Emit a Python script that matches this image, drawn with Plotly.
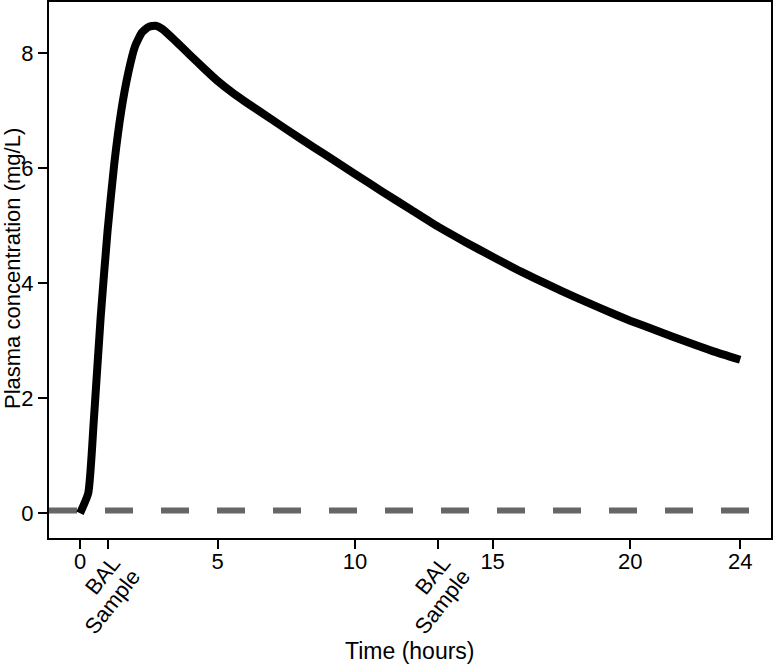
import plotly.graph_objects as go

# ---- data ----
time_hours = [0, 0.3, 0.5, 0.75, 1, 1.25, 1.5, 1.75, 2, 2.25, 2.5, 2.75, 3, 3.5, 4, 4.5,
              5, 5.5, 6, 7, 8, 9, 10, 11, 12, 13, 14, 15, 16, 17, 18, 19, 20, 21, 22, 23, 24]
concentration = [0, 0.35, 1.6, 3.4, 4.9, 6.1, 7.0, 7.65, 8.12, 8.36, 8.46, 8.48, 8.42, 8.20, 7.97, 7.74,
                 7.52, 7.33, 7.16, 6.84, 6.52, 6.21, 5.90, 5.59, 5.29, 4.99, 4.72, 4.46, 4.21, 3.98,
                 3.76, 3.55, 3.35, 3.17, 2.99, 2.82, 2.67]
threshold_level = 0.05
bal_sample_times = [1, 13]
bal_label_lines = ["BAL", "Sample"]
x_tick_values = [0, 5, 10, 15, 20, 24]
y_tick_values = [0, 2, 4, 6, 8]

X_RANGE = [-1.127, 25.12]
Y_RANGE = [-0.43, 8.892]
FONT = "Liberation Sans, Arial, Helvetica, sans-serif"
FS = 22
TFS = 23

fig = go.Figure()

fig.add_trace(go.Scatter(
    x=X_RANGE, y=[threshold_level, threshold_level], mode="lines",
    line=dict(color="#666666", width=6, dash="28px,28px"),
    hoverinfo="skip", showlegend=False))

fig.add_trace(go.Scatter(
    x=time_hours, y=concentration, mode="lines",
    line=dict(color="black", width=8, shape="spline", smoothing=0.5),
    showlegend=False))

all_ticks = sorted(x_tick_values + bal_sample_times)
tick_text = [str(v) if v in x_tick_values else "" for v in all_ticks]

# rotated two-line "BAL Sample" labels under their ticks
line_offsets = [(-5, -37.5), (5, -63.5)]
for t in bal_sample_times:
    for txt, (dx, dy) in zip(bal_label_lines, line_offsets):
        fig.add_annotation(
            x=t, y=0, xref="x", yref="paper", text=txt, showarrow=False,
            textangle=-52, xanchor="center", yanchor="middle",
            xshift=dx, yshift=dy,
            font=dict(family=FONT, size=FS, color="black"))

fig.add_annotation(
    x=0.5, y=0, xref="paper", yref="paper", text="Time (hours)", showarrow=False,
    xanchor="center", yanchor="middle", yshift=-113,
    font=dict(family=FONT, size=TFS, color="black"))

fig.add_annotation(
    x=0, y=0.5, xref="paper", yref="paper", text="Plasma concentration (mg/L)",
    showarrow=False, textangle=-90, xanchor="center", yanchor="middle",
    xshift=-37, yshift=1, borderpad=0,
    font=dict(family=FONT, size=22, color="black"))

fig.update_layout(
    width=774, height=666,
    margin=dict(l=49, r=3, t=2, b=128, autoexpand=False),
    paper_bgcolor="white", plot_bgcolor="white",
    font=dict(family=FONT, size=FS, color="black"),
    xaxis=dict(
        range=X_RANGE, tickvals=all_ticks, ticktext=tick_text, automargin=False,
        showgrid=False, zeroline=False, showline=True, mirror=True,
        linecolor="black", linewidth=2, ticks="outside", ticklen=9,
        tickwidth=2, tickcolor="black", tickangle=0, ticklabelstandoff=-6,
        tickfont=dict(family=FONT, size=FS)),
    yaxis=dict(
        range=Y_RANGE, tickvals=y_tick_values, automargin=False,
        showgrid=False, zeroline=False, showline=True, mirror=True,
        linecolor="black", linewidth=2, ticks="outside", ticklen=9,
        tickwidth=2, tickcolor="black",
        tickfont=dict(family=FONT, size=FS)),
)

fig.write_html("out.html", config={"displayModeBar": False},
               post_script="document.body.style.margin='0';document.body.style.overflow='hidden';")
